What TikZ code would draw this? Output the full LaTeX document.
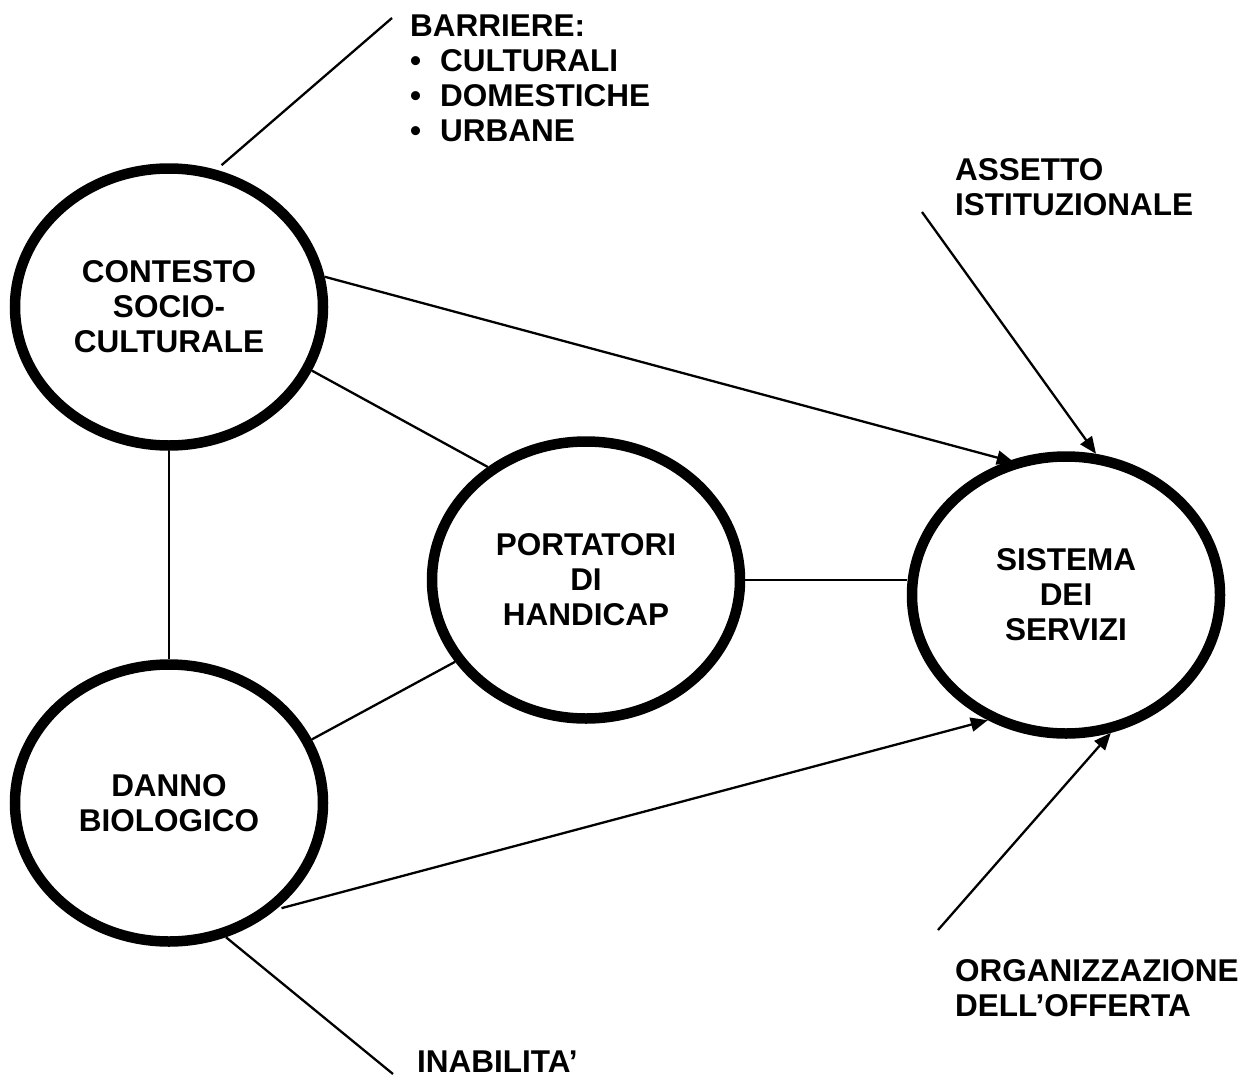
\documentclass[tikz,border=0pt]{standalone}
\usepackage{fontspec}
\setmainfont{Liberation Sans}
\usetikzlibrary{shapes.geometric,arrows.meta,backgrounds}

\begin{document}
\begin{tikzpicture}[x=1pt,y=-1pt,
  every node/.style={font=\bfseries\fontsize{31.5}{35}\selectfont},
  bubble/.style={ellipse,draw,line width=10.5pt,fill=white,
    minimum width=308pt,minimum height=277pt,inner sep=0pt,align=center},
  tag/.style={anchor=north west,inner sep=0pt,align=left},
  link/.style={line width=2.3pt},
  feed/.style={line width=2.3pt,-{Triangle[length=17pt,width=14pt]}}]
\useasboundingbox (0,0) rectangle (1251,1079);

% the four actors
\node[bubble] (contesto)  at (169,307)  {CONTESTO\\SOCIO-\\CULTURALE};
\node[bubble] (danno)     at (169,803)  {DANNO\\BIOLOGICO};
\node[bubble] (portatori) at (586,580)  {PORTATORI\\DI\\HANDICAP};
\node[bubble] (sistema)   at (1066,595) {SISTEMA\\DEI\\SERVIZI};

% outer labels
\node[tag] (barriere) at (410,15)
  {BARRIERE:\\\makebox[30pt][l]{\textbullet}CULTURALI\\
   \makebox[30pt][l]{\textbullet}DOMESTICHE\\\makebox[30pt][l]{\textbullet}URBANE};
\node[tag] (assetto) at (955,158) {ASSETTO\\ISTITUZIONALE};
\node[tag] (offerta) at (955,959) {ORGANIZZAZIONE\\DELL’OFFERTA};
\node[tag] (inabilita) at (417,1051) {INABILITA’};

% free ends of the label leaders
\coordinate (barriereEnd)  at (392,18);
\coordinate (assettoEnd)   at (922,212);
\coordinate (offertaEnd)   at (938,930);
\coordinate (inabilitaEnd) at (393,1074);

\begin{scope}[on background layer]
  \draw[link] (contesto.south) -- (danno.north);
  \draw[link] (contesto.-24) -- (portatori.131);
  \draw[link] (danno.24) -- (portatori.-148);
  \draw[link] (portatori.east) -- (portatori.east -| sistema.west);
  \draw[feed, shorten >=-5pt] (contesto.11) -- (sistema.113);
  \draw[feed] (assettoEnd) -- (sistema.78);
  \draw[feed] (offertaEnd) -- (sistema.-72);
  \draw[feed, shorten <=6pt] (danno.-45) -- (sistema.-122);
  \draw[link, shorten <=7pt] (contesto.71) -- (barriereEnd);
  \draw[link] (danno.-67) -- (inabilitaEnd);
\end{scope}
\end{tikzpicture}
\end{document}
